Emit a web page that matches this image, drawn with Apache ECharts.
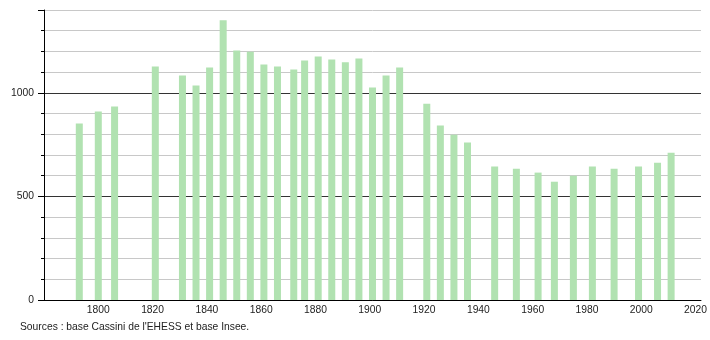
<!DOCTYPE html>
<html>
<head>
<meta charset="utf-8">
<script src="https://cdn.jsdelivr.net/npm/echarts@6/dist/echarts.min.js"></script>
<style>html,body{margin:0;padding:0;background:#fff}#c{width:710px;height:340px}</style>
</head>
<body>
<div id="c"></div>
<script>
const years = [1793,1800,1806,1821,1831,1836,1841,1846,1851,1856,1861,1866,1872,1876,1881,1886,1891,1896,1901,1906,1911,1921,1926,1931,1936,1946,1954,1962,1968,1975,1982,1990,1999,2006,2011];
const population = [852,910,934,1127,1084,1035,1122,1350,1205,1198,1137,1127,1113,1156,1176,1161,1148,1166,1026,1084,1123,948,842,798,760,644,634,615,571,600,644,634,644,663,711];
const yLabels = [0,500,1000];
const xLabels = [1800,1820,1840,1860,1880,1900,1920,1940,1960,1980,2000,2020];
const sourceText = "Sources : base Cassini de l'EHESS et base Insee.";

const chart = echarts.init(document.getElementById('c'), null, {renderer:'canvas'});
const font = 'Liberation Sans, Arial, sans-serif';
const fs = 10.3;
chart.setOption({
  animation:false,
  backgroundColor:'#fff',
  grid:{left:44,top:10,right:9,bottom:40,containLabel:false},
  xAxis:{
    type:'value',min:1780,max:2022,interval:20,
    axisLine:{show:true,lineStyle:{color:'#000',width:1}},
    axisTick:{show:false},
    splitLine:{show:false},
    axisLabel:{show:true,margin:5,fontSize:fs,fontFamily:font,color:'#222',
      showMinLabel:true,showMaxLabel:true,
      formatter:v=>xLabels.includes(v)?String(v):''}
  },
  yAxis:[{
    type:'value',min:0,max:1400,interval:100,
    axisLine:{show:true,lineStyle:{color:'#000',width:1}},
    axisTick:{show:true,length:3,lineStyle:{color:'#000'}},
    splitLine:{show:true,lineStyle:{color:['#333','#c8c8c8','#c8c8c8','#c8c8c8','#c8c8c8'],width:1}},
    axisLabel:{margin:10,fontSize:fs,fontFamily:font,color:'#222',
      formatter:v=>yLabels.includes(v)?String(v):''}
  },{
    type:'value',min:0,max:1400,interval:500,position:'left',
    axisLine:{show:false},
    axisTick:{show:true,length:6,lineStyle:{color:'#000'}},
    splitLine:{show:false},
    axisLabel:{show:false}
  }],
  graphic:[{type:'text',left:20,top:322,style:{text:sourceText,font:fs+'px '+font,fill:'#222'}}],
  series:[{
    type:'bar',
    barWidth:7,
    itemStyle:{color:'#b1e2b1'},
    data:years.map((y,i)=>[y,population[i]])
  }]
});
</script>
</body>
</html>
